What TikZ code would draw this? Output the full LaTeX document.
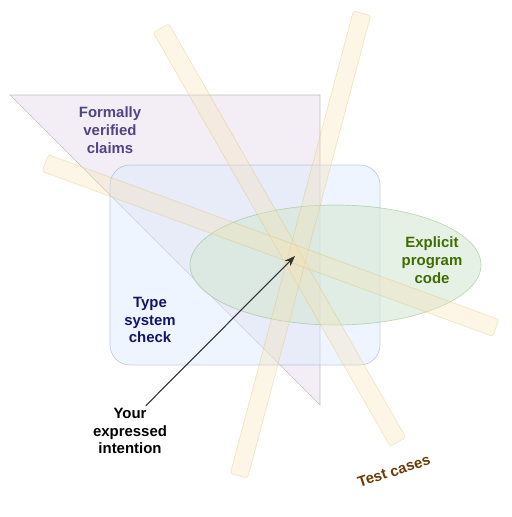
\documentclass[tikz,border=0pt]{standalone}
\usepackage{fontspec}
\setmainfont{Liberation Sans}
\usetikzlibrary{arrows.meta, positioning, shapes.geometric}
\definecolor{claimfill}{HTML}{E1D5E7}
\definecolor{typefill}{HTML}{DAE8FC}
\definecolor{typeline}{HTML}{6C8EBF}
\definecolor{codefill}{HTML}{D5E8D4}
\definecolor{codeline}{HTML}{82B366}
\definecolor{testfill}{HTML}{F8E1B2}
\definecolor{testline}{HTML}{D6B656}
\definecolor{claimtxt}{HTML}{4E4585}
\definecolor{typetxt}{HTML}{14146B}
\definecolor{codetxt}{HTML}{3F6B00}
\definecolor{testtxt}{HTML}{6B3A05}
\tikzset{
  lbl/.style={font=\bfseries\fontsize{8.5}{10.2}\selectfont,align=center,inner sep=1pt},
  stick/.style={rectangle,rounded corners=1.5pt,draw=testline,draw opacity=0.3,fill=testfill,fill opacity=0.32,
    minimum height=0.36cm,inner sep=0pt,line width=0.4pt}
}

\begin{document}
\begin{tikzpicture}[x=0.02cm,y=-0.02cm]%
  \useasboundingbox (0,0) rectangle (511,517);
  % formal claims, type check, code
  \draw[fill=claimfill,fill opacity=0.4,draw=gray,draw opacity=0.45,line width=0.4pt](10,95)--(320,95)--(320,405)--cycle;
  \draw[rounded corners=0.4cm,fill=typefill,fill opacity=0.45,draw=typeline,draw opacity=0.4,line width=0.4pt](110,165)rectangle(380,365);
  \draw[fill=codefill,fill opacity=0.6,draw=codeline,draw opacity=0.45,line width=0.4pt](335.5,265)ellipse[x radius=145.5,y radius=60];
  % test cases
  \foreach \n/\cx/\cy/\len/\ang in {A/279.5/235/9.54/-60.2, B/300.5/244.5/9.58/75.1, C/270.5/245.5/9.6/-20.1}{
    \node[stick,minimum width=\len cm,rotate=\ang] (stick\n) at (\cx,\cy) {};}
  \node[lbl,text=claimtxt] (claims) at (110,130) {Formally\\verified\\claims};
  \node[lbl,text=typetxt] (typecheck) at (150,320) {Type\\system\\check};
  \node[lbl,text=codetxt] (code) at (432,260) {Explicit\\program\\code};
  \node[lbl,text=testtxt,rotate=17.7] (tests) at (394,471) {Test cases};
  \node[lbl] (intent) at (130,431) {Your\\expressed\\intention};
  \coordinate (hub) at (295,256);
  \draw[-{Stealth[length=6pt,width=4.5pt]},draw=black!80,fill=black!80,line width=0.6pt](intent.58)--(hub);
\end{tikzpicture}
\end{document}
